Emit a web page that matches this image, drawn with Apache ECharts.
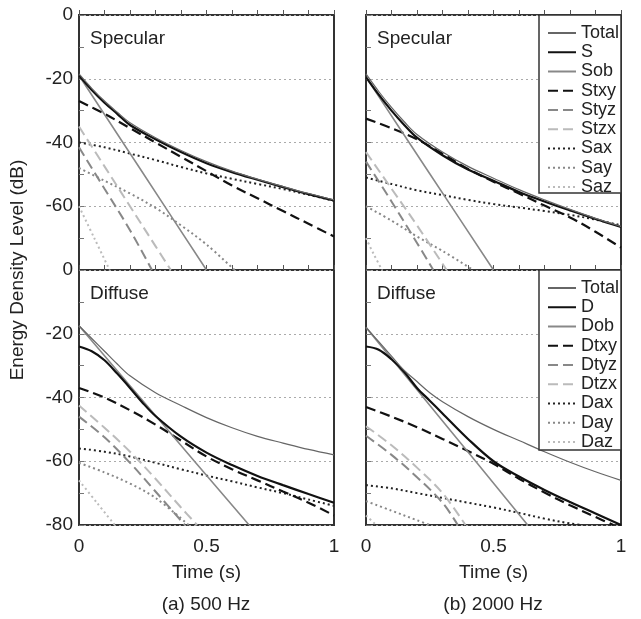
<!DOCTYPE html>
<html>
<head>
<meta charset="utf-8">
<script src="https://cdn.jsdelivr.net/npm/echarts@6/dist/echarts.min.js"></script>
<style>html,body{margin:0;padding:0;background:#fff;}#c{width:641px;height:619px;}</style>
</head>
<body>
<div id="c"></div>
<script>
// ---- names / labels ----
const specNames = ['Total','S','Sob','Stxy','Styz','Stzx','Sax','Say','Saz'];
const diffNames = ['Total','D','Dob','Dtxy','Dtyz','Dtzx','Dax','Day','Daz'];
const yTitle = 'Energy Density Level (dB)';
const xTitle = 'Time (s)';
const subTitles = ['(a) 500 Hz', '(b) 2000 Hz'];
const panelLabels = ['Specular', 'Diffuse'];

// ---- 500 Hz, Specular ----
const s500_Total = [[0,-18.5],[0.05,-23],[0.1,-27],[0.15,-30.5],[0.2,-33.8],[0.3,-38.5],[0.4,-42.5],[0.5,-46],[0.6,-49],[0.7,-51.5],[0.8,-53.8],[0.9,-56],[1,-58]];
const s500_S = [[0,-19],[0.05,-23.5],[0.1,-27.5],[0.15,-31],[0.2,-34.5],[0.3,-39],[0.4,-43],[0.5,-46.5],[0.6,-49.3],[0.7,-51.7],[0.8,-54],[0.9,-56.2],[1,-58.2]];
const s500_Sob = [[0,-19],[0.25,-49.5],[0.5,-80]];
const s500_Stxy = [[0,-27],[0.1,-31],[0.2,-35.5],[0.3,-40],[0.4,-44.5],[0.5,-49],[0.6,-53.5],[0.7,-57.5],[0.8,-61.5],[0.9,-65.5],[1,-69.5]];
const s500_Styz = [[0,-41.5],[0.1,-54.5],[0.2,-67.5],[0.286,-80]];
const s500_Stzx = [[0,-35],[0.1,-47.5],[0.2,-60],[0.3,-72.5],[0.36,-80]];
const s500_Sax = [[0,-40],[0.1,-41.5],[0.2,-43.5],[0.3,-45.5],[0.4,-47.7],[0.5,-49.7],[0.6,-51.4],[0.7,-53],[0.8,-54.6],[0.9,-56.4],[1,-58.3]];
const s500_Say = [[0,-48],[0.1,-52],[0.2,-56],[0.3,-60.5],[0.4,-66],[0.5,-72],[0.61,-80]];
const s500_Saz = [[0,-60],[0.06,-70],[0.12,-80]];

// ---- 2000 Hz, Specular ----
const s2k_Total = [[0,-18.5],[0.05,-24],[0.1,-29],[0.15,-33.5],[0.2,-37.5],[0.3,-43],[0.4,-47.5],[0.5,-51.2],[0.6,-54.8],[0.7,-58],[0.8,-61],[0.9,-63.8],[1,-66.3]];
const s2k_S = [[0,-19.5],[0.05,-25],[0.1,-30],[0.15,-34.5],[0.2,-38.5],[0.3,-44],[0.4,-48.5],[0.5,-52],[0.6,-55.5],[0.7,-58.5],[0.8,-61.3],[0.9,-64],[1,-66.5]];
const s2k_Sob = [[0,-19.5],[0.25,-49.8],[0.5,-80]];
const s2k_Stxy = [[0,-32.5],[0.1,-35.5],[0.2,-39],[0.3,-43.5],[0.4,-48.3],[0.5,-52.3],[0.6,-56],[0.7,-59.8],[0.8,-63.5],[0.9,-68],[1,-73]];
const s2k_Styz = [[0,-46],[0.1,-58.5],[0.2,-71.5],[0.264,-80]];
const s2k_Stzx = [[0,-43],[0.1,-54.5],[0.2,-66],[0.316,-80]];
const s2k_Sax = [[0,-51],[0.1,-53],[0.2,-55],[0.3,-56.5],[0.4,-58],[0.5,-59.3],[0.6,-60.4],[0.7,-61.5],[0.8,-62.7],[0.9,-64.2],[1,-66]];
const s2k_Say = [[0,-60],[0.1,-64.5],[0.2,-69.5],[0.3,-74],[0.42,-80]];
const s2k_Saz = [[0,-70],[0.03,-75],[0.063,-80]];

// ---- 500 Hz, Diffuse ----
const d500_Total = [[0,-17.5],[0.05,-21.5],[0.1,-25.5],[0.15,-29.5],[0.2,-33.2],[0.3,-38.5],[0.4,-42.5],[0.5,-46.3],[0.6,-49.5],[0.7,-52.2],[0.8,-54.3],[0.9,-56.3],[1,-58]];
const d500_D = [[0,-24],[0.05,-25.5],[0.1,-28.3],[0.15,-32.5],[0.2,-37],[0.25,-41.7],[0.3,-45.8],[0.4,-52.3],[0.5,-57.3],[0.6,-61.2],[0.7,-64.6],[0.8,-67.5],[0.9,-70.3],[1,-73]];
const d500_Dob = [[0,-17.5],[0.33,-48.5],[0.667,-80]];
const d500_Dtxy = [[0,-37],[0.1,-40],[0.2,-44],[0.3,-48.5],[0.4,-53.5],[0.5,-58.5],[0.6,-62.5],[0.7,-66],[0.8,-69.5],[0.9,-73],[1,-77]];
const d500_Dtyz = [[0,-46],[0.1,-52.5],[0.2,-60.5],[0.3,-69.5],[0.415,-80]];
const d500_Dtzx = [[0,-42.5],[0.1,-49.5],[0.2,-57],[0.3,-65.5],[0.4,-74.5],[0.463,-80]];
const d500_Dax = [[0,-56],[0.1,-57],[0.2,-58.5],[0.3,-60.5],[0.4,-62.5],[0.5,-64.5],[0.6,-66.3],[0.7,-68.2],[0.8,-70],[0.9,-72],[1,-74]];
const d500_Day = [[0,-60.5],[0.1,-63.5],[0.2,-67],[0.3,-71.5],[0.43,-80]];
const d500_Daz = [[0,-66],[0.07,-73],[0.14,-80]];

// ---- 2000 Hz, Diffuse ----
const d2k_Total = [[0,-18],[0.05,-22.5],[0.1,-27],[0.15,-31.5],[0.2,-35],[0.25,-38.5],[0.3,-41.3],[0.4,-46],[0.5,-50],[0.6,-53.5],[0.7,-57],[0.8,-60.3],[0.9,-63.3],[1,-66]];
const d2k_D = [[0,-24],[0.05,-25],[0.1,-28],[0.15,-32],[0.2,-37],[0.25,-41],[0.3,-45],[0.4,-53],[0.5,-60],[0.6,-64.8],[0.7,-69],[0.8,-72.8],[0.9,-76.4],[1,-80]];
const d2k_Dob = [[0,-18],[0.317,-49],[0.634,-80]];
const d2k_Dtxy = [[0,-43],[0.1,-46],[0.2,-49.3],[0.3,-53],[0.4,-56.8],[0.5,-60.8],[0.6,-65.5],[0.7,-69.8],[0.8,-73.8],[0.9,-77.5],[0.97,-80]];
const d2k_Dtyz = [[0,-52],[0.1,-58],[0.2,-65],[0.3,-73],[0.36,-80]];
const d2k_Dtzx = [[0,-49],[0.1,-55],[0.2,-62],[0.3,-70],[0.39,-80]];
const d2k_Dax = [[0,-67.5],[0.1,-68.5],[0.2,-70],[0.3,-71.5],[0.4,-73],[0.5,-74.5],[0.6,-76.2],[0.7,-78],[0.8,-79.5],[0.85,-80]];
const d2k_Day = [[0,-72.5],[0.1,-75.5],[0.2,-78.5],[0.25,-80]];
const d2k_Daz = [[0,-77],[0.04,-80]];

// ---- assemble ----
const FONT = 'Liberation Sans, Arial, Helvetica, sans-serif';
const DASH = [10, 5];
const DOT = [2, 3];
const lineStyles = [
  {color:'#666', width:1.2, type:'solid'},
  {color:'#111', width:2.2, type:'solid'},
  {color:'#888', width:1.6, type:'solid'},
  {color:'#111', width:2.2, type:DASH},
  {color:'#888', width:2, type:DASH},
  {color:'#bbb', width:2, type:DASH},
  {color:'#222', width:2, type:DOT},
  {color:'#888', width:2, type:DOT},
  {color:'#bbb', width:2, type:DOT}
];
const panels = [
  {names: specNames, data: [s500_Total,s500_S,s500_Sob,s500_Stxy,s500_Styz,s500_Stzx,s500_Sax,s500_Say,s500_Saz]},
  {names: diffNames, data: [d500_Total,d500_D,d500_Dob,d500_Dtxy,d500_Dtyz,d500_Dtzx,d500_Dax,d500_Day,d500_Daz]},
  {names: specNames, data: [s2k_Total,s2k_S,s2k_Sob,s2k_Stxy,s2k_Styz,s2k_Stzx,s2k_Sax,s2k_Say,s2k_Saz]},
  {names: diffNames, data: [d2k_Total,d2k_D,d2k_Dob,d2k_Dtxy,d2k_Dtyz,d2k_Dtzx,d2k_Dax,d2k_Day,d2k_Daz]}
];
// grid layout: 0 TL, 1 BL, 2 TR, 3 BR
const gridPos = [
  {left:79, top:15}, {left:79, top:270}, {left:366, top:15}, {left:366, top:270}
];
const grids = gridPos.map(p => ({left:p.left, top:p.top, width:255, height:255, show:true, borderColor:'#333', borderWidth:2, backgroundColor:'rgba(0,0,0,0)'}));

const xAxes = gridPos.map((p, i) => {
  const bottom = (i === 1 || i === 3);
  return {
    type:'value', gridIndex:i, min:0, max:1, interval:0.5,
    axisLine:{show:false},
    axisTick:{show:true, inside:true, length:5, lineStyle:{color:'#555', width:1}},
    minorTick:{show:true, splitNumber:5, length:5, lineStyle:{color:'#555', width:1}},
    splitLine:{show:false},
    axisLabel:{show:bottom, margin:12, fontSize:19, color:'#222', fontFamily:FONT},
    name: bottom ? xTitle : '', nameLocation:'middle', nameGap:38,
    nameTextStyle:{fontSize:19, color:'#222', fontFamily:FONT}
  };
});
const yAxes = gridPos.map((p, i) => {
  const left = (i === 0 || i === 1);
  const top = (i === 0 || i === 2);
  return {
    type:'value', gridIndex:i, min:-80, max:0, interval:20,
    axisLine:{show:false},
    axisTick:{show:true, inside:true, length:5, lineStyle:{color:'#777', width:1}},
    minorTick:{show:true, splitNumber:2, length:5, lineStyle:{color:'#777', width:1}},
    splitLine:{show:true, lineStyle:{color:'#aaa', width:1, type:[2,3]}},
    axisLabel:{show:left, showMinLabel:!top, margin:6, fontSize:19, color:'#222', fontFamily:FONT}
  };
});

const series = [];
panels.forEach((pn, gi) => {
  pn.data.forEach((d, k) => {
    series.push({
      type:'line', name: pn.names[k], xAxisIndex:gi, yAxisIndex:gi,
      data: d, symbol:'none', smooth:0.35, lineStyle: lineStyles[k],
      color: lineStyles[k].color, itemStyle:{color: lineStyles[k].color},
      z: 2 + (9 - k) * 0.01, silent:true, animation:false
    });
  });
});

const legendBase = {
  orient:'vertical', left:547, itemWidth:28, itemHeight:14, itemGap:1.25, padding:0,
  textStyle:{fontSize:18, lineHeight:18, color:'#222', fontFamily:FONT},
  itemStyle:{opacity:0, borderWidth:0},
  selectedMode:false, z:10
};

const option = {
  animation:false,
  backgroundColor:'#fff',
  grid: grids,
  xAxis: xAxes,
  yAxis: yAxes,
  legend: [
    Object.assign({}, legendBase, {top:24, data: specNames}),
    Object.assign({}, legendBase, {top:279, data: diffNames})
  ],
  series: series,
  graphic: [
    {type:'rect', z:8, shape:{x:539, y:15, width:82, height:178}, style:{fill:'#fff', stroke:'#333', lineWidth:1.5}},
    {type:'rect', z:8, shape:{x:539, y:270, width:82, height:180}, style:{fill:'#fff', stroke:'#333', lineWidth:1.5}},
    {type:'text', z:9, left:90, top:29, style:{text:panelLabels[0], fontSize:19, fill:'#222', fontFamily:FONT}},
    {type:'text', z:9, left:377, top:29, style:{text:panelLabels[0], fontSize:19, fill:'#222', fontFamily:FONT}},
    {type:'text', z:9, left:90, top:284, style:{text:panelLabels[1], fontSize:19, fill:'#222', fontFamily:FONT}},
    {type:'text', z:9, left:377, top:284, style:{text:panelLabels[1], fontSize:19, fill:'#222', fontFamily:FONT}},
    {type:'text', z:9, x:18, y:270, rotation:Math.PI/2, style:{text:yTitle, fontSize:19, fill:'#222', fontFamily:FONT, align:'center', verticalAlign:'middle'}},
    {type:'text', z:9, x:206, y:605, style:{text:subTitles[0], fontSize:19, fill:'#222', fontFamily:FONT, align:'center', verticalAlign:'middle'}},
    {type:'text', z:9, x:493, y:605, style:{text:subTitles[1], fontSize:19, fill:'#222', fontFamily:FONT, align:'center', verticalAlign:'middle'}}
  ]
};

const chart = echarts.init(document.getElementById('c'), null, {renderer:'canvas'});
chart.setOption(option);
</script>
</body>
</html>
